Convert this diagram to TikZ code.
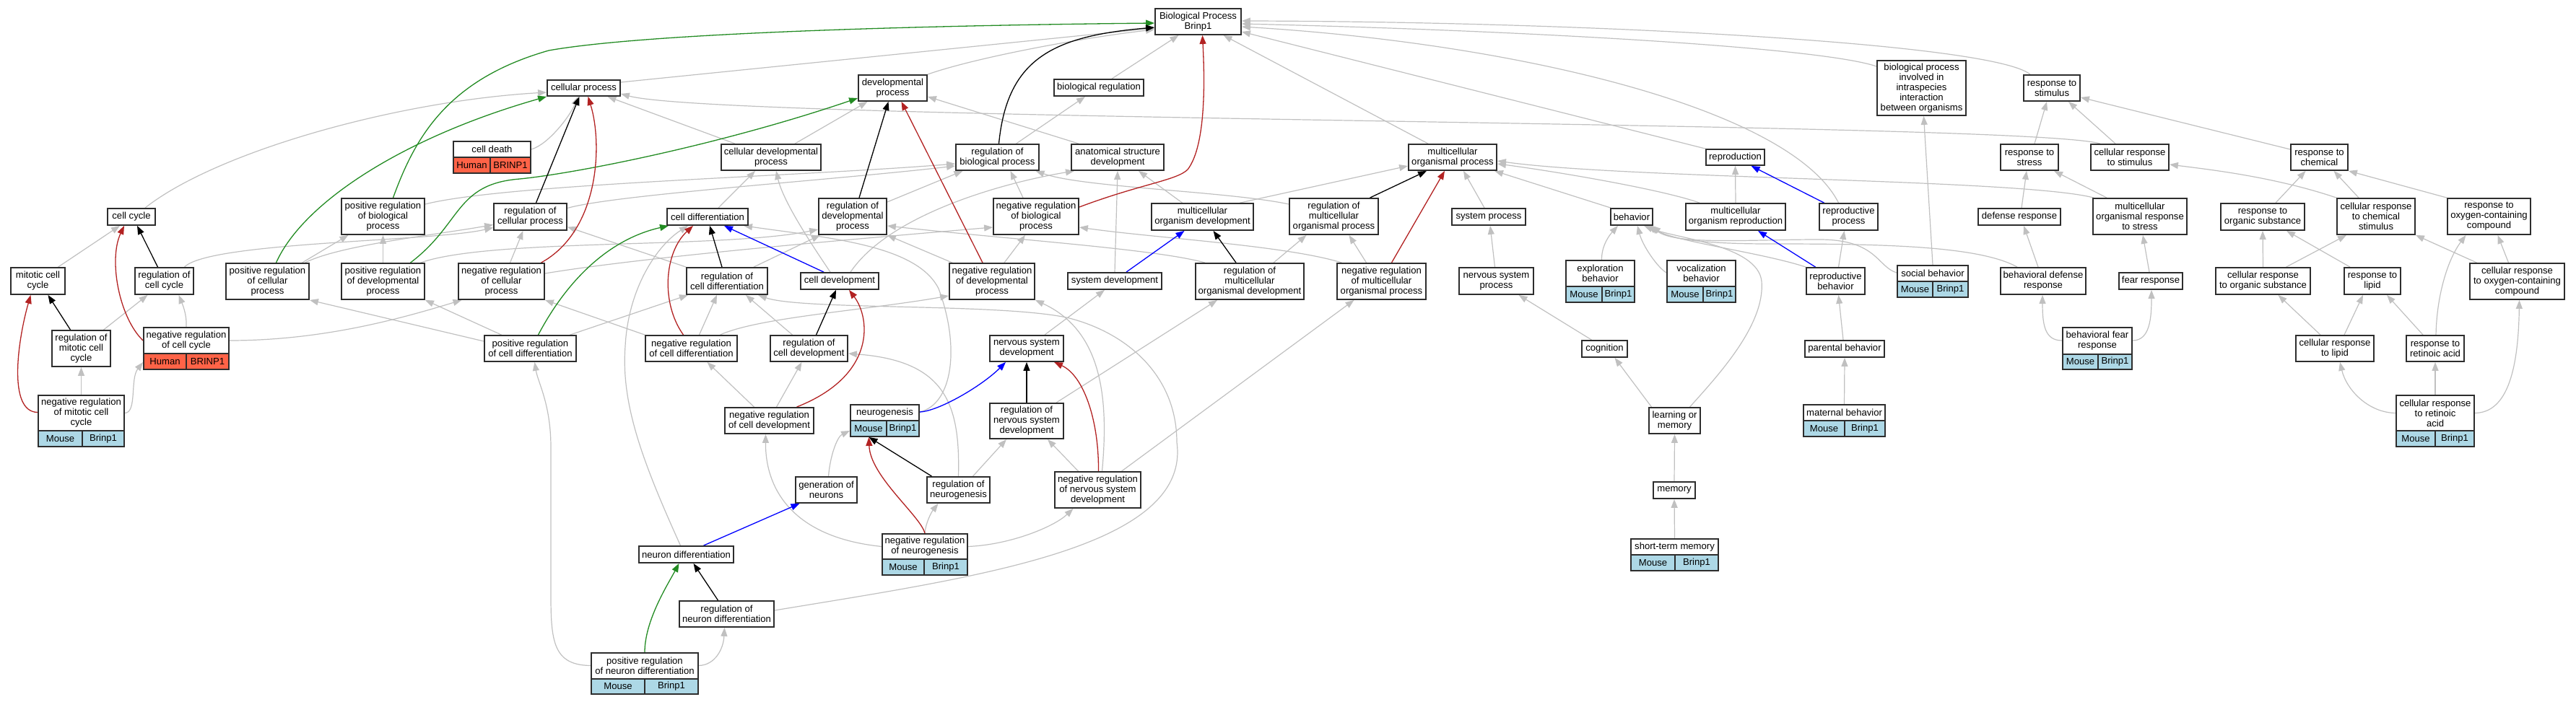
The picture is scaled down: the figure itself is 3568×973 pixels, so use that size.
\documentclass[tikz,border=0pt]{standalone}
\usepackage{fontspec}
\setmainfont{Liberation Sans}
\usetikzlibrary{arrows.meta}
\definecolor{edgegray}{RGB}{192,192,192}
\definecolor{posgreen}{RGB}{34,139,34}
\definecolor{negred}{RGB}{178,34,34}
\definecolor{partblue}{RGB}{0,0,255}
\definecolor{mousefill}{RGB}{173,216,230}
\definecolor{humanfill}{RGB}{255,99,71}
\definecolor{boxcol}{RGB}{45,45,45}
\newcommand\gofont{\fontsize{13.1pt}{14pt}\selectfont}
\pgfdeclarelayer{edges}
\pgfsetlayers{edges,main}
\tikzset{
  tbx/.style={rectangle, draw=boxcol, line width=1.8pt, fill=white, inner sep=0pt, align=center, font=\gofont},
  txt/.style={inner sep=0pt, align=center, font=\gofont},
  boxline/.style={draw=boxcol, line width=1.8pt},
  tip/.style={-{Triangle[length=12pt,width=9pt]}},
  isa/.style={draw=edgegray, line width=1.2pt, tip},
  preg/.style={draw=posgreen, line width=1.3pt, tip},
  nreg/.style={draw=negred, line width=1.3pt, tip},
  rg/.style={draw=black, line width=1.3pt, tip},
  prt/.style={draw=partblue, line width=1.3pt, tip}
}
% plain term box: name, x1, y1, x2, y2, text
\newcommand\gonode[6]{\node[tbx, minimum width={#4-#2}, minimum height={#5-#3}] (#1) at ({(#2+#4)/2},{(#3+#5)/2}) {#6};}
% annotated box: name, x1, y1, x2, y2, ysplit, xsplit, text
\newcommand\gbox[8]{%
  \node[tbx, minimum width={#4-#2}, minimum height={#5-#3}] (#1) at ({(#2+#4)/2},{(#3+#5)/2}) {};
  \fill[\gfill] (#2,#6) rectangle (#4,#5);
  \draw[boxline] (#2,#3) rectangle (#4,#5) (#2,#6) -- (#4,#6) (#7,#6) -- (#7,#5);
  \node[txt] (#1-t) at ({(#2+#4)/2},{(#3+#6)/2}) {#8};
  \node[txt] (#1-s) at ({(#2+#7)/2},{(#6+#5)/2}) {\gspec};
  \node[txt] (#1-g) at ({(#7+#4)/2},{(#6+#5)/2}) {\ggene};
}
\newcommand\mousebox{\def\gfill{mousefill}\def\gspec{Mouse}\def\ggene{Brinp1}\gbox}
\newcommand\humanbox{\def\gfill{humanfill}\def\gspec{Human}\def\ggene{BRINP1}\gbox}

\begin{document}
\begin{tikzpicture}[x=1pt,y=-1pt]
\useasboundingbox (0,0) rectangle (3568,973);

% ---------- nodes ----------
\gonode{bp}{1600}{12}{1719}{48}{Biological Process\\Brinp1}
\gonode{cp}{758}{111}{859}{133}{cellular process}
\gonode{dp}{1189}{104}{1284}{140}{developmental\\process}
\gonode{br}{1460}{110}{1584}{133}{biological regulation}
\gonode{bpi}{2600}{84}{2723}{160}{biological process\\involved in\\intraspecies\\interaction\\between organisms}
\gonode{rs}{2803}{104}{2881}{140}{response to\\stimulus}

\humanbox{cdeath}{628}{196}{735}{240}{218}{679}{cell death}
\gonode{cdp}{999}{200}{1137}{236}{cellular developmental\\process}
\gonode{rbp}{1324}{200}{1439}{236}{regulation of\\biological process}
\gonode{asd}{1484}{200}{1612}{236}{anatomical structure\\development}
\gonode{mop}{1951}{200}{2073}{236}{multicellular\\organismal process}
\gonode{repro}{2363}{207}{2444}{229}{reproduction}
\gonode{rstress}{2771}{200}{2851}{236}{response to\\stress}
\gonode{crs}{2896}{200}{3004}{236}{cellular response\\to stimulus}
\gonode{rchem}{3173}{200}{3252}{236}{response to\\chemical}

\gonode{ccycle}{149}{289}{215}{312}{cell cycle}
\gonode{prbp}{473}{275}{588}{325}{positive regulation\\of biological\\process}
\gonode{rcp}{684}{282}{785}{319}{regulation of\\cellular process}
\gonode{cdiff}{924}{289}{1036}{312}{cell differentiation}
\gonode{rdp}{1134}{275}{1228}{325}{regulation of\\developmental\\process}
\gonode{nrbp}{1376}{275}{1494}{325}{negative regulation\\of biological\\process}
\gonode{mod}{1595}{282}{1736}{319}{multicellular\\organism development}
\gonode{rmop}{1786}{275}{1909}{325}{regulation of\\multicellular\\organismal process}
\gonode{sysp}{2011}{289}{2113}{312}{system process}
\gonode{beh}{2231}{289}{2289}{312}{behavior}
\gonode{mor}{2335}{282}{2473}{319}{multicellular\\organism reproduction}
\gonode{rp}{2520}{282}{2601}{319}{reproductive\\process}
\gonode{defr}{2740}{289}{2854}{312}{defense response}
\gonode{mors}{2899}{275}{3029}{325}{multicellular\\organismal response\\to stress}
\gonode{ros}{3076}{282}{3192}{319}{response to\\organic substance}
\gonode{crcs}{3237}{275}{3345}{325}{cellular response\\to chemical\\stimulus}
\gonode{rocc}{3390}{275}{3505}{325}{response to\\oxygen-containing\\compound}

\gonode{mcc}{15}{371}{90}{408}{mitotic cell\\cycle}
\gonode{rcc}{187}{371}{268}{408}{regulation of\\cell cycle}
\gonode{prcp}{313}{365}{428}{415}{positive regulation\\of cellular\\process}
\gonode{prdp}{473}{365}{588}{415}{positive regulation\\of developmental\\process}
\gonode{nrcp}{635}{365}{754}{415}{negative regulation\\of cellular\\process}
\gonode{rcd}{951}{371}{1063}{408}{regulation of\\cell differentiation}
\gonode{cdev}{1109}{378}{1217}{401}{cell development}
\gonode{nrdp}{1315}{365}{1433}{415}{negative regulation\\of developmental\\process}
\gonode{sysd}{1479}{378}{1609}{401}{system development}
\gonode{rmod}{1656}{365}{1806}{415}{regulation of\\multicellular\\organismal development}
\gonode{nrmop}{1852}{365}{1975}{415}{negative regulation\\of multicellular\\organismal process}
\gonode{nsp}{2021}{371}{2124}{408}{nervous system\\process}
\mousebox{expb}{2169}{361}{2264}{419}{397}{2219}{exploration\\behavior}
\mousebox{vocb}{2309}{361}{2404}{419}{397}{2359}{vocalization\\behavior}
\gonode{rpb}{2502}{371}{2583}{408}{reproductive\\behavior}
\mousebox{socb}{2628}{368}{2726}{412}{390}{2677}{social behavior}
\gonode{bdr}{2771}{371}{2889}{408}{behavioral defense\\response}
\gonode{fear}{2935}{378}{3023}{401}{fear response}
\gonode{cros}{3069}{371}{3200}{408}{cellular response\\to organic substance}
\gonode{rlip}{3247}{371}{3325}{408}{response to\\lipid}
\gonode{crocc}{3421}{365}{3552}{415}{cellular response\\to oxygen-containing\\compound}

\gonode{rmcc}{72}{458}{153}{508}{regulation of\\mitotic cell\\cycle}
\humanbox{nrcc}{199}{454}{317}{512}{490}{258}{negative regulation\\of cell cycle}
\gonode{prcd}{671}{465}{798}{501}{positive regulation\\of cell differentiation}
\gonode{nrcd}{894}{465}{1021}{501}{negative regulation\\of cell differentiation}
\gonode{rcdev}{1067}{465}{1174}{501}{regulation of\\cell development}
\gonode{nsd}{1371}{465}{1473}{501}{nervous system\\development}
\gonode{cog}{2191}{472}{2254}{495}{cognition}
\gonode{parb}{2500}{472}{2610}{495}{parental behavior}
\mousebox{bfr}{2857}{454}{2953}{512}{491}{2906}{behavioral fear\\response}
\gonode{crlip}{3180}{465}{3288}{501}{cellular response\\to lipid}
\gonode{rra}{3333}{465}{3413}{501}{response to\\retinoic acid}

\mousebox{nrmcc}{53}{548}{172}{619}{597}{114}{negative regulation\\of mitotic cell\\cycle}
\gonode{nrcdev}{1004}{565}{1127}{601}{negative regulation\\of cell development}
\mousebox{neurog}{1178}{561}{1273}{605}{583}{1228}{neurogenesis}
\gonode{rnsd}{1371}{559}{1473}{608}{regulation of\\nervous system\\development}
\gonode{lom}{2284}{565}{2355}{601}{learning or\\memory}
\mousebox{matb}{2498}{561}{2611}{605}{583}{2555}{maternal behavior}
\mousebox{crra}{3319}{548}{3427}{619}{597}{3373}{cellular response\\to retinoic\\acid}

\gonode{gon}{1102}{661}{1187}{697}{generation of\\neurons}
\gonode{rneurog}{1284}{661}{1371}{697}{regulation of\\neurogenesis}
\gonode{nrnsd}{1461}{654}{1580}{704}{negative regulation\\of nervous system\\development}
\gonode{mem}{2290}{668}{2348}{691}{memory}

\mousebox{nrneurog}{1222}{740}{1340}{797}{775}{1280}{negative regulation\\of neurogenesis}
\gonode{neud}{885}{757}{1016}{780}{neuron differentiation}
\mousebox{stm}{2259}{747}{2380}{791}{769}{2320}{short-term memory}
\gonode{rnd}{941}{833}{1072}{869}{regulation of\\neuron differentiation}
\mousebox{prnd}{819}{905}{967}{962}{941}{893}{positive regulation\\of neuron differentiation}

% ---------- connectors ----------
\begin{pgfonlayer}{edges}
% is_a (grey)
\draw[isa] ([yshift=8pt]cp.east) -- ([yshift=-9pt]bp.west);
\draw[isa] (dp.north east) .. controls (1350,80) and (1500,52) .. ([yshift=-11pt]bp.west);
\draw[isa] ([xshift=18pt]br.north) -- ([xshift=-27pt]bp.south);
\draw[isa] ([xshift=-34pt]mop.north) -- ([xshift=35pt]bp.south);
\draw[isa] (repro.north west) -- ([yshift=-14pt]bp.east);
\draw[isa] ([xshift=-14pt]rp.north) .. controls (2480,150) and (2100,60) .. ([yshift=-7pt]bp.east);
\draw[isa] ([yshift=30pt]bpi.west) .. controls (2520,65) and (2100,42) .. ([yshift=-3pt]bp.east);
\draw[isa] ([xshift=-30pt]rs.north) .. controls (2760,60) and (2200,30) .. ([yshift=1pt]bp.east);
\draw[isa] ([yshift=11pt]cdeath.east) .. controls (760,200) and (790,160) .. ([xshift=-8pt]cp.south);
\draw[isa] ([xshift=-50pt]cdp.north) -- ([xshift=33pt]cp.south);
\draw[isa] ([xshift=-41pt]crs.north) .. controls (2800,168) and (1000,168) .. ([yshift=-8pt]cp.east);
\draw[isa] ([xshift=33pt]cdp.north) -- ([xshift=-35pt]dp.south);
\draw[isa] ([xshift=-54pt]asd.north) -- ([yshift=-12pt]dp.east);
\draw[isa] ([xshift=26pt]rbp.north) -- ([xshift=-19pt]br.south);
\draw[isa] ([xshift=19pt]ccycle.north) .. controls (300,210) and (550,140) .. ([yshift=-6pt]cp.west);
\draw[isa] ([xshift=28pt]mcc.north) -- ([xshift=-16pt]ccycle.south);
\draw[isa] ([xshift=28pt]rcc.north) .. controls (290,335) and (600,335) .. ([yshift=-15pt]rcp.west);
\draw[isa] ([xshift=48pt]prcp.north) -- ([xshift=-48pt]prbp.south);
\draw[isa] ([xshift=52pt]prcp.north) .. controls (470,340) and (600,326) .. ([yshift=-11pt]rcp.west);
\draw[isa] (prdp.north) -- (prbp.south);
\draw[isa] ([xshift=52pt]prdp.north) .. controls (680,330) and (1000,345) .. ([yshift=-18pt]rdp.west);
\draw[isa] ([xshift=12pt]nrcp.north) -- ([xshift=-10pt]rcp.south);
\draw[isa] ([yshift=11pt]nrcp.east) .. controls (900,355) and (1200,330) .. ([yshift=-15pt]nrbp.west);
\draw[isa] (rcd.north west) -- ([yshift=-14pt]rcp.east);
\draw[isa] ([xshift=37pt]rcd.north) -- ([xshift=-45pt]rdp.south);
\draw[isa] ([xshift=15pt]cdiff.north) -- ([xshift=-22pt]cdp.south);
\draw[isa] ([xshift=-13pt]cdev.north) .. controls (1125,340) and (1085,280) .. ([xshift=7pt]cdp.south);
\draw[isa] ([xshift=15pt]cdev.north) .. controls (1230,300) and (1380,255) .. ([xshift=-60pt]asd.south);
\draw[isa] (sysd.north) -- (asd.south);
\draw[isa] ([xshift=-28pt]mod.north) -- ([xshift=29pt]asd.south);
\draw[isa] ([yshift=20pt]rdp.east) -- ([xshift=-48pt]rbp.south);
\draw[isa] ([xshift=-18pt]nrbp.north) -- ([xshift=18pt]rbp.south);
\draw[isa] ([yshift=17pt]prbp.east) .. controls (700,255) and (1100,245) .. ([yshift=-9pt]rbp.west);
\draw[isa] ([yshift=12pt]rcp.east) .. controls (850,270) and (1150,250) .. ([yshift=-12pt]rbp.west);
\draw[isa] ([yshift=17pt]rmop.west) .. controls (1700,265) and (1500,260) .. ([xshift=53pt]rbp.south);
\draw[isa] ([xshift=52pt]mod.north) -- ([yshift=-12pt]mop.west);
\draw[isa] ([xshift=-62pt]rmod.north) .. controls (1600,345) and (1400,332) .. ([yshift=-13pt]rdp.east);
\draw[isa] ([xshift=33pt]rmod.north) -- ([xshift=-38pt]rmop.south);
\draw[isa] ([xshift=-55pt]nrdp.north) -- (rdp.south east);
\draw[isa] ([xshift=17pt]nrdp.north) -- ([xshift=-15pt]nrbp.south);
\draw[isa] ([xshift=-55pt]nrmop.north) .. controls (1780,340) and (1600,330) .. ([yshift=-15pt]nrbp.east);
\draw[isa] ([xshift=-21pt]nrmop.north) -- ([xshift=21pt]rmop.south);
\draw[isa] ([xshift=-6pt]sysp.north) -- ([xshift=15pt]mop.south);
\draw[isa] ([xshift=-29pt]beh.north) -- ([xshift=58pt]mop.south);
\draw[isa] ([xshift=-50pt]mor.north) .. controls (2300,262) and (2150,237) .. ([yshift=-9pt]mop.east);
\draw[isa] ([xshift=-64pt]mors.north) .. controls (2800,248) and (2250,248) .. ([yshift=-5pt]mop.east);
\draw[isa] (mor.north) -- (repro.south);
\draw[isa] ([xshift=-20pt]crs.north) -- ([xshift=23pt]rs.south);
\draw[isa] ([xshift=7pt]rstress.north) -- ([xshift=-7pt]rs.south);
\draw[isa] ([yshift=11pt]rchem.west) -- ([yshift=-13pt]rs.east);
\draw[isa] ([xshift=3pt]defr.north) -- ([xshift=-4pt]rstress.south);
\draw[isa] ([xshift=-46pt]mors.north) -- ([xshift=34pt]rstress.south);
\draw[isa] ([xshift=18pt]ros.north) -- ([xshift=-19pt]rchem.south);
\draw[isa] ([xshift=-24pt]crcs.north) -- ([xshift=20pt]rchem.south);
\draw[isa] (crcs.north west) .. controls (3150,245) and (3060,235) .. ([yshift=-10pt]crs.east);
\draw[isa] (rocc.north west) -- (rchem.south east);
\draw[isa] ([xshift=31pt]rmcc.north) -- ([xshift=-23pt]rcc.south);
\draw[isa] (nrcc.north) .. controls (259,435) and (252,420) .. ([xshift=20pt]rcc.south);
\draw[isa] ([yshift=11pt]nrcc.east) .. controls (450,472) and (560,440) .. ([xshift=-55pt]nrcp.south);
\draw[isa] (nrmcc.north) -- (rmcc.south);
\draw[isa] ([yshift=11pt]nrmcc.east) .. controls (190,572) and (180,525) .. ([yshift=-19pt]nrcc.west);
\draw[isa] ([yshift=10pt]prcd.west) -- (prcp.south east);
\draw[isa] ([xshift=-40pt]prcd.north) -- (prdp.south east);
\draw[isa] ([xshift=55pt]prcd.north) -- ([xshift=-54pt]rcd.south);
\draw[isa] (nrcd.north west) -- (nrcp.south east);
\draw[isa] ([xshift=11pt]nrcd.north) -- ([xshift=-14pt]rcd.south);
\draw[isa] ([xshift=40pt]nrcd.north) .. controls (1050,440) and (1200,430) .. ([yshift=-20pt]nrdp.west);
\draw[isa] ([xshift=-23pt]rcdev.north) -- ([xshift=26pt]rcd.south);
\draw[isa] ([xshift=25pt]nsd.north) -- ([xshift=-14pt]sysd.south);
\draw[isa] ([yshift=5pt]rnd.east) .. controls (1350,800) and (1650,760) .. (1630,613) .. controls (1630,520) and (1560,460) .. (1477,440) .. controls (1380,420) and (1110,430) .. ([xshift=43pt]rcd.south);
\draw[isa] ([xshift=-8pt]neud.north) .. controls (890,640) and (860,560) .. (866,480) .. controls (870,400) and (910,340) .. ([xshift=-27pt]cdiff.south);
\draw[isa] ([yshift=12pt]neurog.east) .. controls (1320,560) and (1330,480) .. (1300,400) .. controls (1270,340) and (1150,330) .. ([xshift=50pt]cdiff.south);
\draw[isa] (rneurog.north) .. controls (1330,560) and (1310,500) .. ([yshift=-7pt]rcdev.east);
\draw[isa] ([xshift=20pt]rneurog.north) -- ([xshift=-28pt]rnsd.south);
\draw[isa] ([xshift=3pt]gon.north) .. controls (1150,630) and (1160,605) .. ([yshift=-14pt]neurog.west);
\draw[isa] (nrneurog.north) .. controls (1282,725) and (1290,710) .. ([xshift=-28pt]rneurog.south);
\draw[isa] ([yshift=11pt]nrneurog.east) .. controls (1400,755) and (1460,730) .. ([xshift=-34pt]nrnsd.south);
\draw[isa] ([yshift=11pt]nrneurog.west) .. controls (1100,745) and (1060,680) .. ([xshift=-5pt]nrcdev.south);
\draw[isa] ([xshift=-27pt]nrnsd.north) -- ([xshift=29pt]rnsd.south);
\draw[isa] ([xshift=6pt]nrnsd.north) .. controls (1535,560) and (1530,460) .. (nrdp.south east);
\draw[isa] ([xshift=33pt]nrnsd.north) -- ([xshift=-38pt]nrmop.south);
\draw[isa] ([xshift=41pt]rnsd.north) -- ([xshift=-45pt]rmod.south);
\draw[isa] ([xshift=10pt]nrcdev.north) -- ([xshift=-10pt]rcdev.south);
\draw[isa] ([xshift=-21pt]nrcdev.north) -- ([xshift=22pt]nrcd.south);
\draw[isa] ([yshift=11pt]prnd.east) .. controls (990,922) and (1002,900) .. ([xshift=-3pt]rnd.south);
\draw[isa] ([yshift=11pt]prnd.west) .. controls (760,922) and (763,880) .. (763,800) -- (763,620) .. controls (763,560) and (745,530) .. ([xshift=6pt]prcd.south);
\draw[isa] ([xshift=-2pt]nsp.north) -- ([xshift=2pt]sysp.south);
\draw[isa] ([xshift=2pt]expb.north) .. controls (2218,340) and (2230,325) .. ([xshift=-19pt]beh.south);
\draw[isa] ([yshift=12pt]vocb.west) .. controls (2295,370) and (2275,340) .. ([xshift=8pt]beh.south);
\draw[isa] (rpb.north west) .. controls (2440,350) and (2320,335) .. ([xshift=22pt]beh.south);
\draw[isa] ([yshift=12pt]socb.west) .. controls (2600,370) and (2600,332) .. (2520,332) .. controls (2420,332) and (2320,340) .. ([xshift=26pt]beh.south);
\draw[isa] ([xshift=-36pt]bdr.north) .. controls (2740,340) and (2600,338) .. (2450,338) .. controls (2350,338) and (2310,330) .. ([xshift=28pt]beh.south);
\draw[isa] ([xshift=21pt]lom.north) .. controls (2380,520) and (2445,450) .. (2440,390) .. controls (2435,340) and (2320,330) .. ([xshift=17pt]beh.south);
\draw[isa] ([xshift=4pt]rpb.north) -- ([xshift=-6pt]rp.south);
\draw[isa] ([xshift=-18pt]cog.north) -- ([xshift=31pt]nsp.south);
\draw[isa] ([xshift=-2pt]parb.north) -- ([xshift=4pt]rpb.south);
\draw[isa] ([xshift=-32pt]lom.north) -- ([xshift=14pt]cog.south);
\draw[isa] (mem.north) -- (lom.south);
\draw[isa] (stm.north) -- (mem.south);
\draw[isa] (matb.north) -- (parb.south);
\draw[isa] (socb.north) -- ([xshift=3pt]bpi.south);
\draw[isa] ([xshift=-7pt]bdr.north) -- ([xshift=6pt]defr.south);
\draw[isa] ([xshift=-2pt]fear.north) -- ([xshift=4pt]mors.south);
\draw[isa] ([yshift=11pt]bfr.west) .. controls (2832,472) and (2829,450) .. ([xshift=-1pt]bdr.south);
\draw[isa] ([yshift=11pt]bfr.east) .. controls (2978,472) and (2980,440) .. ([xshift=1pt]fear.south);
\draw[isa] (cros.north) -- (ros.south);
\draw[isa] ([xshift=32pt]cros.north) -- ([xshift=-41pt]crcs.south);
\draw[isa] ([xshift=-31pt]rlip.north) -- ([xshift=33pt]ros.south);
\draw[isa] ([xshift=-12pt]crocc.north) -- ([xshift=12pt]rocc.south);
\draw[isa] ([xshift=-56pt]crocc.north) -- (crcs.south east);
\draw[isa] ([xshift=-20pt]crlip.north) -- ([xshift=21pt]cros.south);
\draw[isa] ([xshift=13pt]crlip.north) -- ([xshift=-13pt]rlip.south);
\draw[isa] ([xshift=-17pt]rra.north) -- ([xshift=20pt]rlip.south);
\draw[isa] ([xshift=1pt]rra.north) .. controls (3375,410) and (3390,360) .. ([xshift=-32pt]rocc.south);
\draw[isa] ([yshift=11pt]crra.west) .. controls (3280,572) and (3250,540) .. ([xshift=7pt]crlip.south);
\draw[isa] (crra.north) -- (rra.south);
\draw[isa] ([yshift=11pt]crra.east) .. controls (3470,572) and (3488,520) .. ([xshift=3pt]crocc.south);

% positively regulates (green)
\draw[preg] ([xshift=14pt]prbp.north) .. controls (575,190) and (620,110) .. (760,70) .. controls (900,45) and (1300,35) .. ([yshift=-2pt]bp.west);
\draw[preg] ([xshift=12pt]prcp.north) .. controls (420,280) and (560,190) .. (cp.south west);
\draw[preg] ([xshift=38pt]prdp.north) .. controls (640,310) and (630,255) .. (720,248) .. controls (800,240) and (1000,200) .. ([yshift=-14pt]dp.west);
\draw[preg] ([xshift=11pt]prcd.north) .. controls (790,380) and (850,330) .. ([xshift=-54pt]cdiff.south);
\draw[preg] (prnd.north) .. controls (893,860) and (925,810) .. ([xshift=-10pt]neud.south);

% regulates (black)
\draw[rg] ([xshift=2pt]rbp.north) .. controls (1395,80) and (1460,50) .. ([yshift=-8pt]bp.west);
\draw[rg] ([xshift=8pt]rcp.north) -- ([xshift=-6pt]cp.south);
\draw[rg] ([xshift=-9pt]rcc.north) -- ([xshift=8pt]ccycle.south);
\draw[rg] ([xshift=-15pt]rmcc.north) -- ([xshift=14pt]mcc.south);
\draw[rg] ([xshift=9pt]rdp.north) -- ([xshift=-6pt]dp.south);
\draw[rg] ([xshift=-7pt]rcd.north) -- ([xshift=3pt]cdiff.south);
\draw[rg] ([xshift=10pt]rcdev.north) -- ([xshift=-5pt]cdev.south);
\draw[rg] ([xshift=-19pt]rmod.north) -- ([xshift=15pt]mod.south);
\draw[rg] ([xshift=50pt]rmop.north) -- ([xshift=-36pt]mop.south);
\draw[rg] (rnsd.north) -- (nsd.south);
\draw[rg] ([xshift=-37pt]rneurog.north) -- ([xshift=-22pt]neurog.south);
\draw[rg] ([xshift=-12pt]rnd.north) -- ([xshift=10pt]neud.south);

% negatively regulates (red)
\draw[nreg] ([xshift=55pt]nrcp.north) .. controls (830,320) and (835,200) .. ([xshift=6pt]cp.south);
\draw[nreg] ([yshift=11pt]nrcc.west) .. controls (165,440) and (150,360) .. ([xshift=-10pt]ccycle.south);
\draw[nreg] ([yshift=12pt]nrmcc.west) .. controls (10,571) and (25,470) .. ([xshift=-10pt]mcc.south);
\draw[nreg] ([xshift=-13pt]nrdp.north) -- ([xshift=12pt]dp.south);
\draw[nreg] ([yshift=13pt]nrbp.east) .. controls (1580,255) and (1630,250) .. (1645,235) .. controls (1672,200) and (1668,100) .. ([xshift=6pt]bp.south);
\draw[nreg] ([xshift=-11pt]nrcd.north) .. controls (915,420) and (920,350) .. ([xshift=-20pt]cdiff.south);
\draw[nreg] ([xshift=38pt]nrcdev.north) .. controls (1215,520) and (1205,440) .. ([xshift=13pt]cdev.south);
\draw[nreg] ([xshift=14pt]nrmop.north) -- ([xshift=-11pt]mop.south);
\draw[nreg] ([xshift=1pt]nrnsd.north) .. controls (1522,580) and (1500,520) .. ([xshift=38pt]nsd.south);
\draw[nreg] (nrneurog.north) .. controls (1275,715) and (1205,660) .. ([xshift=-22pt]neurog.south);

% part of (blue)
\draw[prt] ([xshift=-22pt]cdev.north) -- ([xshift=23pt]cdiff.south);
\draw[prt] ([xshift=16pt]sysd.north) -- ([xshift=-25pt]mod.south);
\draw[prt] ([xshift=-34pt]rp.north) -- ([xshift=22pt]repro.south);
\draw[prt] ([xshift=-28pt]rpb.north) -- ([xshift=31pt]mor.south);
\draw[prt] ([yshift=12pt]neurog.east) .. controls (1300,570) and (1360,535) .. ([xshift=-29pt]nsd.south);
\draw[prt] ([xshift=24pt]neud.north) -- ([xshift=-37pt]gon.south);
\end{pgfonlayer}
\end{tikzpicture}
\end{document}
